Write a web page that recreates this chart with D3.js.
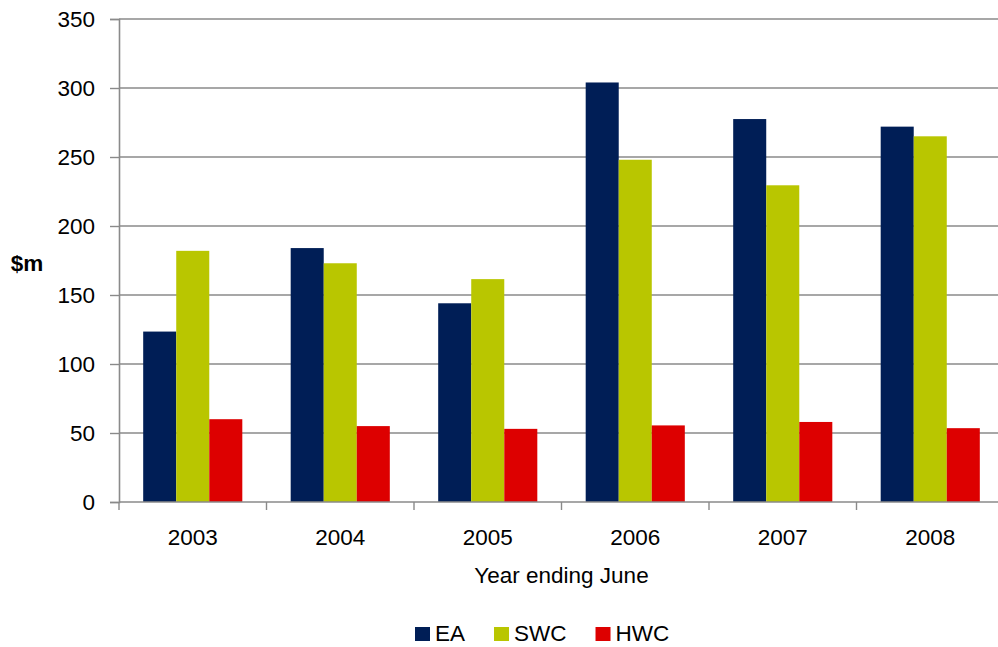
<!DOCTYPE html>
<html>
<head>
<meta charset="utf-8">
<script src="https://cdn.jsdelivr.net/npm/d3@7/dist/d3.min.js"></script>
<style>
  html, body { margin: 0; padding: 0; background: #fff; }
  svg { display: block; font-family: "Liberation Sans", Arial, sans-serif; }
</style>
</head>
<body>
<svg id="chart" width="998" height="647"></svg>
<script>
// Annual funding by body, $m, year ending June
const years = ["2003", "2004", "2005", "2006", "2007", "2008"];
const seriesNames = ["EA", "SWC", "HWC"];
const eaValues  = [123.5, 184, 144, 304, 277.5, 272];
const swcValues = [182, 173, 161.5, 248, 229.5, 265];
const hwcValues = [60, 55, 53, 55.5, 58, 53.5];
const yTicks = [0, 50, 100, 150, 200, 250, 300, 350];
const colors = ["#001e56", "#b9c600", "#dd0000"];

const seriesValues = [eaValues, swcValues, hwcValues];
const rows = years.map((y, i) => ({
  year: y,
  values: seriesNames.map((s, j) => ({ key: s, value: seriesValues[j][i] }))
}));

const svg = d3.select("#chart");
const margin = { left: 119, right: -6, top: 19, bottom: 145 };
const W = 998, H = 647;
const fontSize = 22.5;
const gridColor = "#8a8a8a";

const x = d3.scaleBand()
  .domain(years)
  .range([margin.left, W - margin.right])
  .paddingInner(0.328)
  .paddingOuter(0.164);

const xSub = d3.scaleBand()
  .domain(seriesNames)
  .range([0, x.bandwidth()])
  .padding(0);

const y = d3.scaleLinear()
  .domain([0, 350])
  .range([H - margin.bottom, margin.top]);

const color = d3.scaleOrdinal().domain(seriesNames).range(colors);

// horizontal gridlines
svg.append("g")
  .selectAll("line")
  .data(yTicks.filter(t => t > 0))
  .join("line")
  .attr("x1", margin.left)
  .attr("x2", W - margin.right)
  .attr("y1", d => y(d))
  .attr("y2", d => y(d))
  .attr("stroke", gridColor)
  .attr("stroke-width", 1.4);

// bars
svg.append("g")
  .selectAll("g")
  .data(rows)
  .join("g")
  .attr("transform", d => `translate(${x(d.year)},0)`)
  .selectAll("rect")
  .data(d => d.values)
  .join("rect")
  .attr("x", d => xSub(d.key))
  .attr("width", xSub.bandwidth())
  .attr("y", d => y(d.value))
  .attr("height", d => y(0) - y(d.value))
  .attr("fill", d => color(d.key));

// y axis
const yAxis = svg.append("g")
  .attr("transform", `translate(${margin.left},0)`)
  .call(d3.axisLeft(y).tickValues(yTicks).tickSize(9).tickPadding(15).tickFormat(d3.format("d")));
yAxis.select(".domain").attr("stroke", gridColor).attr("stroke-width", 1.6);
yAxis.selectAll(".tick line").attr("stroke", gridColor).attr("stroke-width", 1.4);
yAxis.selectAll(".tick text")
  .attr("font-size", fontSize)
  .attr("font-family", "Liberation Sans, Arial, sans-serif")
  .attr("fill", "#000");

// x axis: ticks sit between categories
const xAxisG = svg.append("g").attr("transform", `translate(0,${y(0)})`);
xAxisG.append("line")
  .attr("x1", margin.left)
  .attr("x2", W - margin.right)
  .attr("stroke", gridColor)
  .attr("stroke-width", 1.6);
const boundaries = years.map(d => x(d) - x.step() * x.paddingOuter());
xAxisG.selectAll("line.tk")
  .data(boundaries)
  .join("line")
  .attr("class", "tk")
  .attr("x1", d => d)
  .attr("x2", d => d)
  .attr("y1", 0)
  .attr("y2", 8)
  .attr("stroke", gridColor)
  .attr("stroke-width", 1.4);
xAxisG.selectAll("text")
  .data(years)
  .join("text")
  .attr("x", d => x(d) + x.bandwidth() / 2)
  .attr("y", 43)
  .attr("text-anchor", "middle")
  .attr("font-size", fontSize)
  .attr("fill", "#000")
  .text(d => d);

// axis titles
svg.append("text")
  .attr("x", (margin.left + W - margin.right) / 2)
  .attr("y", 583)
  .attr("text-anchor", "middle")
  .attr("font-size", fontSize)
  .attr("fill", "#000")
  .text("Year ending June");

svg.append("text")
  .attr("x", 27)
  .attr("y", 271)
  .attr("text-anchor", "middle")
  .attr("font-size", fontSize)
  .attr("font-weight", "bold")
  .attr("fill", "#000")
  .text("$m");

// legend
const legend = svg.append("g").attr("transform", "translate(415,641)");
let lx = 0;
seriesNames.forEach(name => {
  const item = legend.append("g").attr("transform", `translate(${lx},0)`);
  item.append("rect")
    .attr("x", 0).attr("y", -14)
    .attr("width", 15).attr("height", 14)
    .attr("fill", color(name));
  const t = item.append("text")
    .attr("x", 20).attr("y", 0)
    .attr("font-size", fontSize)
    .attr("fill", "#000")
    .text(name);
  lx += 20 + t.node().getComputedTextLength() + 29;
});
</script>
</body>
</html>
